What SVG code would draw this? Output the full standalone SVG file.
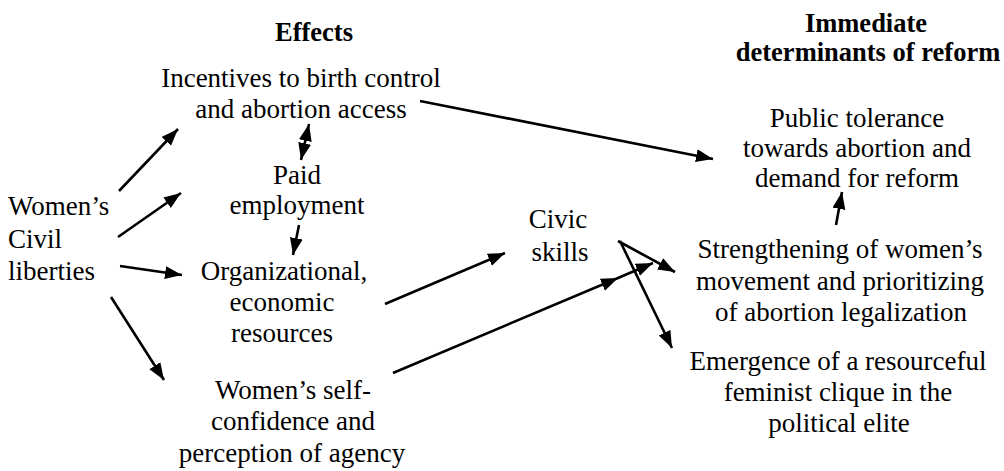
<svg xmlns="http://www.w3.org/2000/svg" width="1004" height="471" viewBox="0 0 1004 471">
<style>
text{font-family:"Liberation Serif","Times New Roman",serif;font-size:27px;fill:#000}
.h{font-weight:bold;font-size:26.5px}
.c{text-anchor:middle}
.e{stroke:#000;stroke-width:2.6;fill:none;marker-end:url(#ah)}
</style>
<defs>
<marker id="ah" markerUnits="userSpaceOnUse" markerWidth="18" markerHeight="14" refX="17" refY="6.5" orient="auto-start-reverse">
<path d="M0,0 L17,6.5 L0,13 z" fill="#000"/>
</marker>
</defs>
<rect width="1004" height="471" fill="#fff"/>
<g id="hdr-effects"><text class="h c" x="314" y="41">Effects</text></g>
<g id="hdr-immediate"><text class="h c" x="866" y="32">Immediate</text><text class="h c" x="868" y="61">determinants of reform</text></g>
<g id="n-women"><text x="8" y="215">Women’s</text><text x="8" y="248">Civil</text><text x="8" y="280">liberties</text></g>
<g id="n-incentives"><text class="c" x="301" y="87">Incentives to birth control</text><text class="c" x="301" y="118">and abortion access</text></g>
<g id="n-paid"><text class="c" x="297" y="184">Paid</text><text class="c" x="297" y="214">employment</text></g>
<g id="n-org"><text class="c" x="284" y="280">Organizational,</text><text class="c" x="282" y="311">economic</text><text class="c" x="282" y="342">resources</text></g>
<g id="n-self"><text class="c" x="293" y="399">Women’s self-</text><text class="c" x="293" y="430">confidence and</text><text class="c" x="292" y="462">perception of agency</text></g>
<g id="n-civic"><text class="c" x="558" y="228">Civic</text><text class="c" x="560" y="261">skills</text></g>
<g id="n-public"><text class="c" x="857" y="127">Public tolerance</text><text class="c" x="857" y="157">towards abortion and</text><text class="c" x="857" y="187">demand for reform</text></g>
<g id="n-strength"><text class="c" x="840" y="258">Strengthening of women’s</text><text class="c" x="840" y="290">movement and prioritizing</text><text class="c" x="841" y="321">of abortion legalization</text></g>
<g id="n-emergence"><text class="c" x="838" y="370">Emergence of a resourceful</text><text class="c" x="838" y="401">feminist clique in the</text><text class="c" x="839" y="432">political elite</text></g>
<g id="connectors">
<line class="e" x1="119" y1="191" x2="178" y2="129"/>
<line class="e" x1="118" y1="237" x2="181" y2="193"/>
<line class="e" x1="120" y1="266" x2="182" y2="275"/>
<line class="e" x1="111" y1="297" x2="164" y2="380"/>
<line class="e" x1="301" y1="160" x2="309" y2="124" style="marker-start:url(#ah)"/>
<line class="e" x1="299" y1="225" x2="293" y2="255"/>
<line class="e" x1="420" y1="101" x2="713" y2="159"/>
<line class="e" x1="385" y1="304" x2="505" y2="253"/>
<path class="e" d="M393,373 L618,278 L653,263" style="marker-mid:url(#ah)"/>
<path class="e" d="M618,241 L675,272"/>
<path class="e" d="M620,241 L672,348"/>
<line class="e" x1="836" y1="225" x2="842" y2="192"/>
</g>
</svg>
